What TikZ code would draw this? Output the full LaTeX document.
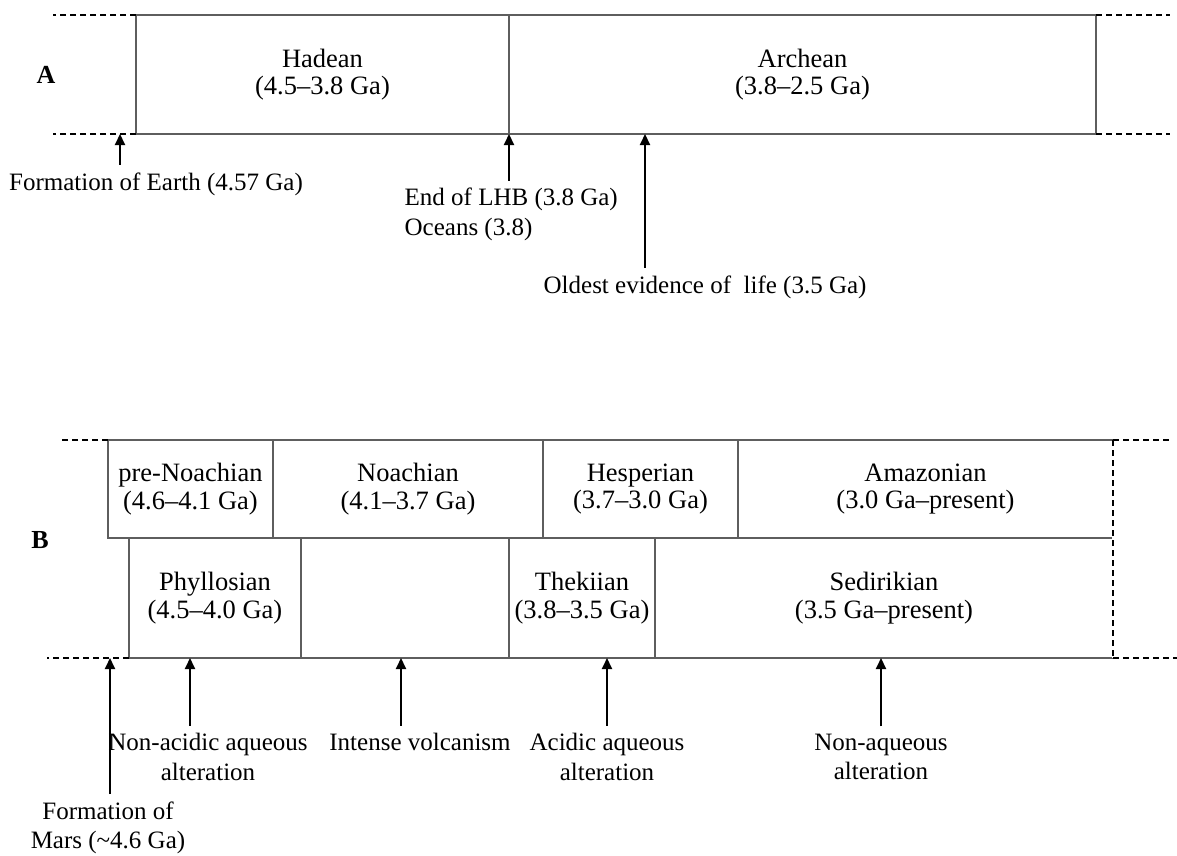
\documentclass[tikz,border=0pt]{standalone}
\usepackage{fontspec}
\setmainfont{Liberation Serif}
\usetikzlibrary{arrows.meta, positioning, calc}
\definecolor{cline}{HTML}{5E5E5E}
\tikzset{
  every picture/.style={line width=1.3pt},
  era/.style={draw=cline, line width=1.3pt, anchor=north west, inner sep=0pt, outer sep=0pt, align=center, font=\fontsize{26.5}{27.5}\selectfont},
  dash line/.style={dash pattern=on 6pt off 4pt, line width=2.2pt},
  arrow/.style={-{Triangle[length=11pt, width=10pt]}, line width=2pt, shorten <=7pt},
  event/.style={align=center, inner sep=0pt, font=\fontsize{25}{29.5}\selectfont},
  panel/.style={font=\fontsize{26}{28}\selectfont\bfseries},
}

\begin{document}
\begin{tikzpicture}[x=1pt, y=-1pt]
  \useasboundingbox (0,0) rectangle (1177,856);
  % panel A: Earth
  \node[panel] (labA) at (46,75) {A};
  \foreach \n/\t/\x/\w in {hadean/{Hadean\\(4.5--3.8 Ga)}/136/373, archean/{Archean\\(3.8--2.5 Ga)}/509/587}
    \node[era, minimum width=\w pt, minimum height=119pt] (\n) at (\x,15) {\t};
  \draw[dash line] (hadean.north west) -- +(-83,0);
  \draw[dash line] (hadean.south west) -- +(-83,0);
  \draw[dash line] (archean.north east) -- +(74,0);
  \draw[dash line] (archean.south east) -- +(74,0);
  \node[event] (earth) at (156,184) {Formation of Earth (4.57 Ga)};
  \node[event, anchor=west] (life) at (543,287) {Oldest evidence of\ \ life (3.5 Ga)};
  \node[event, anchor=west, align=left] (lhb) at (404,214.5) {End of LHB (3.8 Ga)\\Oceans (3.8)};
  \foreach \n/\ax in {earth/120, lhb/509, life/645} {
    \coordinate (\n tip) at (\ax,134);
    \draw[arrow] (\n.north -| \n tip) -- (\n tip);
  }

  % panel B: Mars
  \node[panel] (labB) at (40,540) {B};
  \foreach \n/\t/\x/\w in {prenoachian/{pre-Noachian\\(4.6--4.1 Ga)}/108/165, noachian/{Noachian\\(4.1--3.7 Ga)}/273/270,
                           hesperian/{Hesperian\\(3.7--3.0 Ga)}/543/195, amazonian/{Amazonian\\(3.0 Ga--present)}/738/375}
    \node[era, minimum width=\w pt, minimum height=98pt] (\n) at (\x,440) {\t};
  \foreach \n/\t/\x/\w in {phyllosian/{Phyllosian\\(4.5--4.0 Ga)}/129/172, gap/{}/301/208,
                           thekiian/{Thekiian\\(3.8--3.5 Ga)}/509/146, sedirikian/{Sedirikian\\(3.5 Ga--present)}/655/458}
    \node[era, minimum width=\w pt, minimum height=120pt] (\n) at (\x,538) {\t};
  \draw[white, line width=2.4pt] (amazonian.north east) -- (sedirikian.south east);
  \draw[dash line] (amazonian.north east) -- (sedirikian.south east);
  \draw[dash line] (prenoachian.north west) -- +(-48,0);
  \draw[dash line] (phyllosian.south west) -- +(-82,0);
  \draw[dash line] (amazonian.north east) -- +(57,0);
  \draw[dash line] (sedirikian.south east) -- +(64,0);
  \foreach \n/\t/\lx/\ly/\ax in {mars/{Formation of\\Mars (\char`\~4.6 Ga)}/108/828/110,
                                 nonacidic/{Non-acidic aqueous\\alteration}/208/757/190,
                                 volcanism/{Intense volcanism}/420/742/401,
                                 acidic/{Acidic aqueous\\alteration}/607/757/607,
                                 nonaqueous/{Non-aqueous\\alteration}/881/757/881} {
    \node[event] (\n) at (\lx,\ly) {\t};
    \coordinate (\n tip) at (\ax,658);
    \draw[arrow] (\n.north -| \n tip) -- (\n tip);
  }
\end{tikzpicture}
\end{document}
